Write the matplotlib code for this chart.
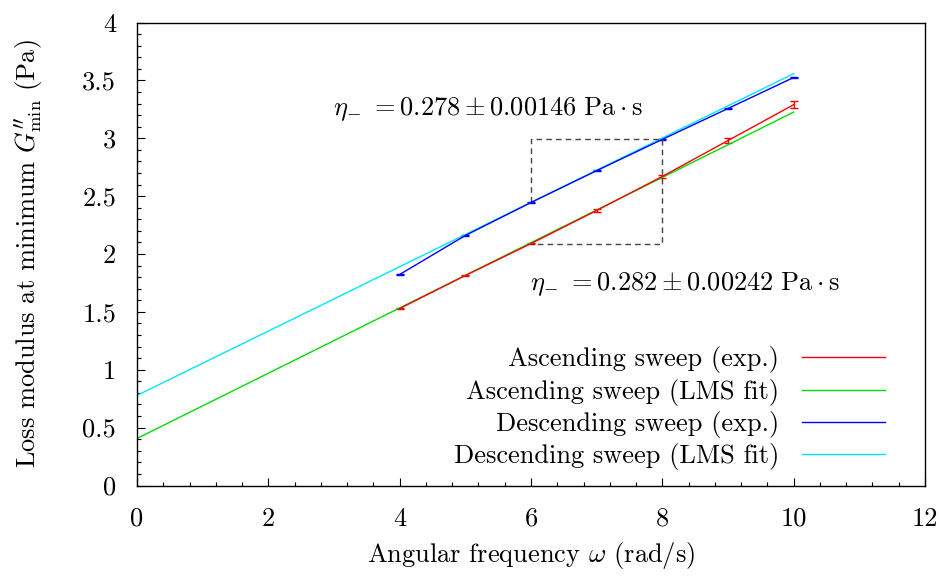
import matplotlib
matplotlib.use("Agg")
import matplotlib.pyplot as plt
from matplotlib.ticker import MultipleLocator
from matplotlib.lines import Line2D

plt.rcParams['font.family'] = ['cmr10', 'DejaVu Serif']
plt.rcParams['mathtext.fontset'] = 'cm'
plt.rcParams['axes.formatter.use_mathtext'] = True
plt.rcParams['font.size'] = 19

# Data
freq = [4, 5, 6, 7, 8, 9, 10]
asc_exp = [1.529, 1.814, 2.090, 2.376, 2.670, 2.980, 3.290]
asc_err = [0.005, 0.006, 0.006, 0.012, 0.015, 0.020, 0.028]
desc_exp = [1.823, 2.160, 2.445, 2.720, 2.990, 3.257, 3.525]
desc_err = [0.004, 0.006, 0.008, 0.005, 0.004, 0.008, 0.004]
fit_x = [0, 10]
asc_fit = [0.406, 3.226]
desc_fit = [0.778, 3.558]
box_x = [6, 6, 8, 8, 6]
box_y = [2.445, 2.99, 2.99, 2.09, 2.09]
series_labels = ['Ascending sweep (exp.)', 'Ascending sweep (LMS fit)',
                 'Descending sweep (exp.)', 'Descending sweep (LMS fit)']
series_colors = ['#ff0000', '#00dd00', '#0000ff', '#00e5ff']

fig = plt.figure(figsize=(9.39, 5.79), dpi=100)
ax = fig.add_axes([137/939, 1-485.5/579, (925-137)/939, (485.5-22.5)/579])

ax.errorbar(freq, asc_exp, yerr=asc_err, color=series_colors[0], lw=1.0, capsize=3,
            capthick=1.0, elinewidth=1.0)
ax.plot(fit_x, asc_fit, color=series_colors[1], lw=1.0)
ax.errorbar(freq, desc_exp, yerr=desc_err, color=series_colors[2], lw=1.0, capsize=3,
            capthick=1.0, elinewidth=1.0)
ax.plot(fit_x, desc_fit, color=series_colors[3], lw=1.0)
ax.plot(box_x, box_y, color='#444444', lw=1.0, ls=(0, (4, 3)))

ax.text(2.985, 3.25,
        r'$\eta_{-}\,\,= 0.278 \pm 0.00146\ \mathrm{Pa}\cdot\mathrm{s}$',
        ha='left', va='center')
ax.text(5.98, 1.74,
        r'$\eta_{-}\,\,= 0.282 \pm 0.00242\ \mathrm{Pa}\cdot\mathrm{s}$',
        ha='left', va='center')

ax.set_xlim(0, 12)
ax.set_ylim(0, 4)
ax.xaxis.set_minor_locator(MultipleLocator(0.4))
ax.yaxis.set_minor_locator(MultipleLocator(0.1))
ax.set_yticks([0, 0.5, 1, 1.5, 2, 2.5, 3, 3.5, 4])
ax.set_yticklabels(['0', '0.5', '1', '1.5', '2', '2.5', '3', '3.5', '4'])
ax.set_xticks([0, 2, 4, 6, 8, 10, 12])
ax.set_xticklabels(['0', '2', '4', '6', '8', '10', '12'])
ax.tick_params(which='both', direction='in', top=False, right=False)
ax.tick_params(which='major', length=6, width=0.8)
ax.tick_params(axis='x', which='major', pad=15.5)
ax.tick_params(axis='y', which='major', pad=15)
ax.tick_params(which='minor', length=3, width=0.8)
for s in ax.spines.values():
    s.set_linewidth(1.0)

ax.set_xlabel(r'Angular frequency $\omega$ (rad/s)', labelpad=7)
ax.set_ylabel(r"Loss modulus at minimum $G^{\prime\prime}_{\mathrm{min}}$ (Pa)", labelpad=27)

hs = [Line2D([], [], color=c, lw=1.0) for c in series_colors]
leg = ax.legend(hs, series_labels, loc='lower right', markerfirst=False, frameon=False,
                handlelength=3.15, handletextpad=0.87, labelspacing=0.2,
                bbox_to_anchor=(0.963, 0.01), borderaxespad=0)
for t in leg.get_texts():
    t.set_ha('right')

fig.savefig('out.png', dpi=100)
